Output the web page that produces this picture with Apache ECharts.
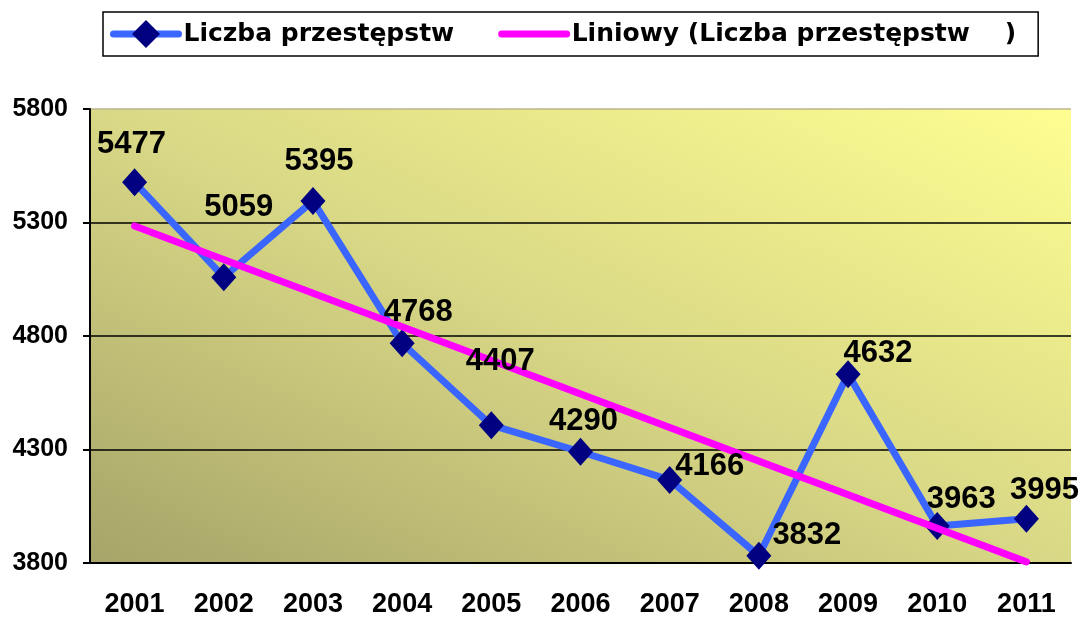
<!DOCTYPE html>
<html>
<head>
<meta charset="utf-8">
<script src="https://cdn.jsdelivr.net/npm/echarts@6/dist/echarts.min.js"></script>
<style>
  html, body { margin: 0; padding: 0; background: #fff; }
  #chart { width: 1081px; height: 623px; }
</style>
</head>
<body>
<div id="chart"></div>
<script>
var years = ['2001', '2002', '2003', '2004', '2005', '2006', '2007', '2008', '2009', '2010', '2011'];
var crimes = [5477, 5059, 5395, 4768, 4407, 4290, 4166, 3832, 4632, 3963, 3995];
// linia trendu (poczatek 2001, koniec 2011)
var trendEnds = [5285, 3805];
var yTicks = [3800, 4300, 4800, 5300, 5800];

// przesuniecia etykiet wzgledem znacznikow
var labelShift = [[-3, -38], [15, -70], [6, -39], [16, -31], [9, -64], [3, -30],
                  [40, -13], [48, -20], [30, -21], [24, -27], [18, -28]];

var trendData = years.map(function (y, i) {
    if (i === 0) return trendEnds[0];
    if (i === years.length - 1) return trendEnds[1];
    return null;
});

var labelData = crimes.map(function (v, i) {
    return {
        value: v,
        label: { offset: labelShift[i] }
    };
});

var chart = echarts.init(document.getElementById('chart'));
var font = 'Liberation Sans, Arial, sans-serif';

chart.setOption({
    animation: false,
    textStyle: { fontFamily: font },
    legend: {
        left: 103,
        top: 12,
        padding: [8, 22, 8, 7],
        itemWidth: 65,
        itemHeight: 35,
        itemGap: 44,
        borderColor: '#000',
        borderWidth: 1.5,
        lineStyle: { width: 7, cap: 'round' },
        textStyle: { fontSize: 25, fontWeight: 'bold', color: '#000', fontFamily: 'DejaVu Sans' },
        data: [
            { name: 'Liczba przestępstw' },
            { name: 'Liniowy (Liczba przestępstw    )', itemStyle: { color: 'rgba(0,0,0,0)', borderWidth: 0 } }
        ]
    },
    grid: {
        left: 90,
        right: 10,
        top: 109,
        bottom: 60,
        show: true,
        borderWidth: 0,
        backgroundColor: {
            type: 'linear', global: true,
            x: 407, y: 711, x2: 755, y2: -38,
            colorStops: [
                { offset: 0, color: '#a6a468' },
                { offset: 0.5, color: '#d9d886' },
                { offset: 1, color: '#fefe92' }
            ]
        }
    },
    xAxis: {
        type: 'category',
        data: years,
        boundaryGap: true,
        axisLine: { lineStyle: { color: '#000', width: 2 } },
        axisTick: { length: 10, lineStyle: { color: '#000', width: 2 } },
        axisLabel: { margin: 28, fontSize: 27, fontWeight: 'bold', color: '#000', fontFamily: font }
    },
    yAxis: {
        type: 'value',
        min: yTicks[0],
        max: yTicks[yTicks.length - 1],
        interval: 500,
        axisLine: { show: true, lineStyle: { color: '#000', width: 2 } },
        axisTick: { show: true, length: 7, lineStyle: { color: '#000', width: 2 } },
        axisLabel: {
            margin: 22, fontSize: 25, fontWeight: 'bold', color: '#000', fontFamily: font,
            formatter: function (v) { return String(v); }
        },
        splitLine: {
            show: true,
            lineStyle: { color: ['#000', '#000', '#000', '#000', '#bbb48a'], width: 1.5 }
        }
    },
    series: [
        {
            name: 'Liczba przestępstw',
            type: 'line',
            data: crimes,
            symbol: 'diamond',
            symbolSize: [25, 28],
            z: 3,
            lineStyle: { color: '#3a66ff', width: 7 },
            itemStyle: { color: '#000080' }
        },
        {
            name: 'Liniowy (Liczba przestępstw    )',
            type: 'line',
            data: trendData,
            connectNulls: true,
            showSymbol: false,
            symbol: 'none',
            z: 4,
            lineStyle: { color: '#ff00ff', width: 7, cap: 'round' },
            itemStyle: { color: '#ff00ff' }
        },
        {
            // etykiety wartosci nad liniami
            name: 'etykiety',
            type: 'line',
            data: labelData,
            symbol: 'circle',
            symbolSize: 1,
            z: 6,
            silent: true,
            lineStyle: { width: 0, opacity: 0 },
            itemStyle: { color: 'rgba(0,0,0,0)' },
            label: {
                show: true,
                position: 'inside',
                fontSize: 31,
                fontWeight: 'bold',
                color: '#000',
                fontFamily: font
            }
        }
    ]
});
</script>
</body>
</html>
